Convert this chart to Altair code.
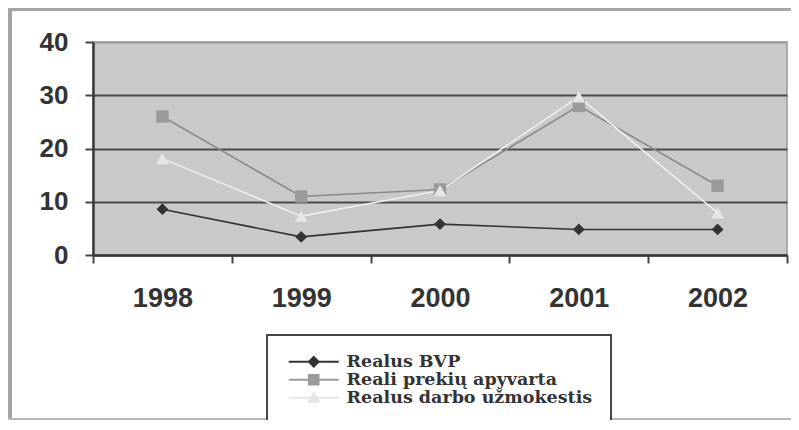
import altair as alt
import pandas as pd

years = ["1998", "1999", "2000", "2001", "2002"]
series_names = ["Realus BVP", "Reali prekių apyvarta", "Realus darbo užmokestis"]
bvp = [8.6, 3.4, 5.8, 4.8, 4.8]
prekiu = [26.0, 11.0, 12.3, 28.0, 13.0]
darbo = [18.1, 7.3, 12.1, 29.7, 7.9]
y_ticks = [0, 10, 20, 30, 40]

point_colors = ["#333333", "#9a9a9a", "#e6e6e6"]
line_colors = ["#333333", "#8a8a8a", "#eeeeee"]
shapes = ["diamond", "square", "triangle-up"]
legend_shapes = [
    "M-1,-0.2H9V0.2H-1Z M4,-1.25L5.25,0L4,1.25L2.75,0Z",
    "M-1,-0.2H9V0.2H-1Z M2.85,-1.15H5.15V1.15H2.85Z",
    "M-1,-0.2H9V0.2H-1Z M4,-1.3L5.35,1.05H2.65Z",
]

rows = []
for name, vals in zip(series_names, [bvp, prekiu, darbo]):
    for yr, v in zip(years, vals):
        rows.append({"year": yr, "value": v, "series": name})
df = pd.DataFrame(rows)

W, H = 694, 213

x_enc = alt.X(
    "year:N",
    bandPosition=0.5,
    scale=alt.Scale(type="band", domain=years, paddingInner=0, paddingOuter=0),
    axis=alt.Axis(
        title=None, labelAngle=0, labelFont="Liberation Sans", labelFontWeight="bold",
        labelFontSize=27, labelColor="#333333", labelPadding=22,
        domainColor="#3a3a3a", domainWidth=2.5, tickColor="#444444", tickWidth=2,
        tickSize=8, tickBand="extent", grid=False,
    ),
)
y_enc = alt.Y(
    "value:Q",
    scale=alt.Scale(domain=[0, 40], nice=False),
    axis=alt.Axis(
        title=None, values=y_ticks, labelFont="Liberation Sans", labelFontWeight="bold",
        labelFontSize=26, labelColor="#333333", labelPadding=17,
        domainColor="#3a3a3a", domainWidth=2.5, tickColor="#444444", tickWidth=2,
        tickSize=8, grid=True,
        gridColor=alt.condition("datum.value == 40", alt.value("#9a9a9a"), alt.value("#4a4a4a")),
        gridWidth=2,
    ),
)

base = alt.Chart(df)

lines = base.mark_line(strokeWidth=1.6).encode(
    x=x_enc, y=y_enc,
    color=alt.Color("series:N", scale=alt.Scale(domain=series_names, range=line_colors), legend=None),
    detail="series:N",
)

points = base.mark_point(filled=True, opacity=1).encode(
    x=x_enc, y=y_enc,
    color=alt.Color("series:N", scale=alt.Scale(domain=series_names, range=point_colors), legend=None),
    shape=alt.Shape("series:N", scale=alt.Scale(domain=series_names, range=shapes), legend=None),
    size=alt.Size("series:N", scale=alt.Scale(domain=series_names, range=[140, 165, 195]), legend=None),
)

legend_layer = base.mark_point(filled=True, opacity=0, size=100).encode(
    x=x_enc, y=y_enc,
    color=alt.Color(
        "series:N", scale=alt.Scale(domain=series_names, range=point_colors),
        legend=alt.Legend(title=None),
    ),
    shape=alt.Shape(
        "series:N", scale=alt.Scale(domain=series_names, range=legend_shapes),
        legend=alt.Legend(title=None),
    ),
)

one = alt.Data(values=[{"a": 1}])
frame_left = alt.Chart(one).mark_rule(color="#a6a6a6", strokeWidth=4).encode(
    x=alt.value(-83), y=alt.value(-34), y2=alt.value(378)
)
frame_top = alt.Chart(one).mark_rule(color="#a6a6a6", strokeWidth=3).encode(
    x=alt.value(-85), x2=alt.value(698), y=alt.value(-32.5)
)
frame_bottom = alt.Chart(one).mark_rule(color="#b8b8b8", strokeWidth=2).encode(
    x=alt.value(-85), x2=alt.value(698), y=alt.value(377)
)

chart = (
    alt.layer(frame_left, frame_top, frame_bottom, lines, points, legend_layer)
    .resolve_scale(color="independent", shape="independent", size="independent")
    .properties(
        width=W, height=H,
        padding={"left": 85, "top": 34, "right": 4, "bottom": 165},
        autosize=alt.AutoSizeParams(type="none"),
        background="white",
    )
    .configure_view(fill="#c9c9cb", stroke="#9a9a9a", strokeWidth=1.5)
    .configure_legend(
        orient="none", legendX=174, legendY=293, padding=18,
        strokeColor="#444444", strokeWidth=2, fillColor="white",
        labelFont="DejaVu Serif", labelFontWeight="bold", labelFontSize=17.5,
        labelColor="#333333", symbolSize=100, symbolOpacity=1,
        symbolStrokeWidth=0, rowPadding=-4, labelOffset=44, labelLimit=400,
    )
)

chart.save("out.html", embed_options={"renderer": "svg", "actions": False})
